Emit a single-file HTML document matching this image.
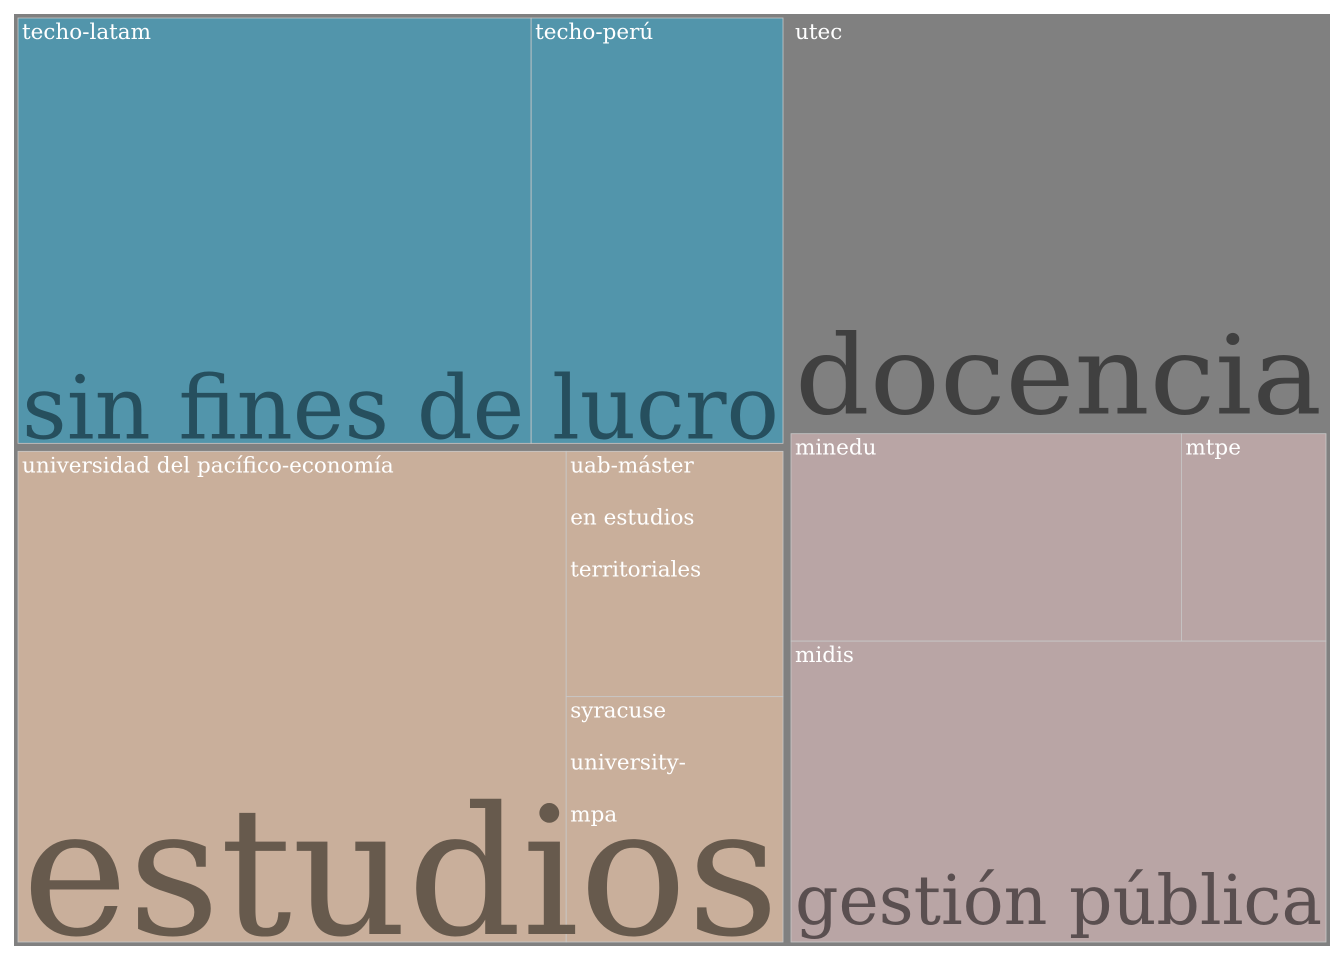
<!DOCTYPE html>
<html><head><meta charset="utf-8"><style>
html,body{margin:0;padding:0;background:#fff;}
svg{display:block;}
text{font-family:"DejaVu Serif","Liberation Serif",serif;}
</style></head><body>
<svg id="chart" width="1344" height="960" viewBox="0 0 1344 960" xmlns="http://www.w3.org/2000/svg"></svg>
<script>
// data
const groupNames = ["sin fines de lucro", "estudios", "docencia", "gestión pública"];
const groupColumn = [0, 0, 1, 1];
const childNames = [
  ["techo-latam", "techo-perú"],
  ["universidad del pacífico-economía", "uab-máster en estudios territoriales", "syracuse university-mpa"],
  ["utec"],
  ["minedu", "mtpe", "midis"]
];
const childValues = [
  [218, 107],
  [268, 53, 53],
  [219],
  [81, 30, 161]
];
// display config
const fills = ["#5295ab", "#c9af9b", "#808080", "#b9a5a5"];
const bigColors = ["#264f5e", "#675a4d", "#404040", "#5a4f50"];
const bigSizes = [88, 178, 110, 68];
const bigBottom = [5, 8, 12, 18];
const wrapLines = {"uab-máster en estudios territoriales": ["uab-máster", "en estudios", "territoriales"],
                   "syracuse university-mpa": ["syracuse", "university-", "mpa"]};

const NS = "http://www.w3.org/2000/svg";
const svg = document.getElementById("chart");
function el(tag, attrs, parent) {
  const e = document.createElementNS(NS, tag);
  for (const k in attrs) e.setAttribute(k, attrs[k]);
  (parent || svg).appendChild(e);
  return e;
}
const X0 = 14, Y0 = 14, W = 1316, H = 932, PAD = 4;
el("rect", {x: X0, y: Y0, width: W, height: H, fill: "#808080"});
const sum = a => a.reduce((s, v) => s + v, 0);
const gTotals = childValues.map(sum);
const colTotals = [0, 0];
gTotals.forEach((t, i) => colTotals[groupColumn[i]] += t);
const total = colTotals[0] + colTotals[1];
const colW = [W * colTotals[0] / total, W * colTotals[1] / total];
const colX = [X0, X0 + colW[0]];
const colY = [Y0, Y0];

function leafLabel(g, name, x, y, dx, dy) {
  const lines = wrapLines[name] || [name];
  lines.forEach((ln, i) => {
    const t = el("text", {x: x + 4 + dx, y: y + 21 + dy + i * 52, fill: "#ffffff", "font-size": 21.5}, g);
    t.textContent = ln;
  });
}
function leaf(g, gi, ci, x, y, w, h) {
  const r = el("rect", {x: x, y: y, width: w, height: h, fill: fills[gi], stroke: "#c8c8c8", "stroke-width": 0.8}, g);
  
  
  if (gi === 2) r.setAttribute("stroke", "none");
  leafLabel(g, childNames[gi][ci], x, y, gi === 2 ? 4 : 0, gi === 2 ? 4 : 0);
}

groupNames.forEach((gname, gi) => {
  const c = groupColumn[gi];
  const gh = H * gTotals[gi] / colTotals[c];
  const gx = colX[c] + PAD, gy = colY[c] + PAD, gw = colW[c] - 2 * PAD, ghh = gh - 2 * PAD;
  colY[c] += gh;
  const g = el("g", {});
  
  
  const vals = childValues[gi], tot = gTotals[gi];
  if (gi === 0) {
    let x = gx;
    vals.forEach((v, ci) => { const w = gw * v / tot; leaf(g, gi, ci, x, gy, w, ghh); x += w; });
  } else if (gi === 1) {
    const w0 = gw * vals[0] / tot;
    leaf(g, gi, 0, gx, gy, w0, ghh);
    const rest = vals[1] + vals[2];
    const h1 = ghh * vals[1] / rest;
    leaf(g, gi, 1, gx + w0, gy, gw - w0, h1);
    leaf(g, gi, 2, gx + w0, gy + h1, gw - w0, ghh - h1);
  } else if (gi === 2) {
    leaf(g, gi, 0, gx - PAD, gy - PAD, gw + 2 * PAD, ghh + 2 * PAD);
  } else {
    const top = vals[0] + vals[1];
    const th = ghh * top / tot;
    const w0 = gw * vals[0] / top;
    leaf(g, gi, 0, gx, gy, w0, th);
    leaf(g, gi, 1, gx + w0, gy, gw - w0, th);
    leaf(g, gi, 2, gx, gy + th, gw, ghh - th);
  }
  const big = el("text", {x: gx + 4, y: gy + ghh - bigBottom[gi], fill: bigColors[gi],
    "font-size": bigSizes[gi], textLength: gw - 8, lengthAdjust: "spacingAndGlyphs"}, g);
  
  
  big.textContent = gname;
});
</script>
</body></html>
